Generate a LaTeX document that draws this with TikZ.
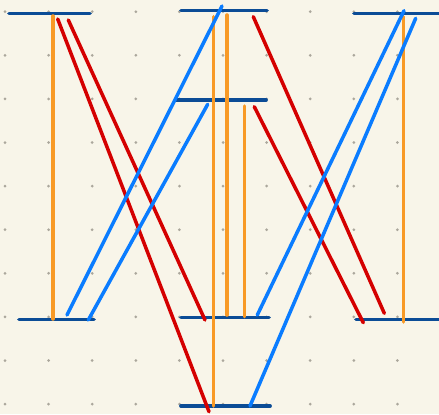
\documentclass[tikz,border=0pt]{standalone}
\usepackage{tikz}
\usetikzlibrary{positioning}
\definecolor{paperc}{HTML}{F8F5E9}
\definecolor{dotc}{HTML}{ABA79C}
\definecolor{barc}{HTML}{0B4C96}
\definecolor{bluec}{HTML}{0A7CFF}
\definecolor{orangec}{HTML}{F89A26}
\definecolor{redc}{HTML}{D40000}

\begin{document}
\begin{tikzpicture}[x=0.025cm, y=-0.025cm,
    barln/.style={draw=barc, line width=2.7pt, line cap=round},
    orangeln/.style={draw=orangec, line width=2.5pt, line cap=round},
    redln/.style={draw=redc, line width=2.5pt, line cap=round},
    blueln/.style={draw=bluec, line width=2.5pt, line cap=round}]
  \useasboundingbox (0,0) rectangle (439,414);
  \fill[paperc] (0,0) rectangle (439,414);
  \clip (0,0) rectangle (439,414);
  % dot grid
  \foreach \i in {0,...,9}
    \foreach \j in {0,...,9}
      \fill[dotc] ({5+43.6*\i},{11.7+43.6*\j}) circle (1.5);
  % bars
  \draw[barln] (9,13.5) -- (90,13.5);
  \draw[barln] (181,10.5) -- (267,10.5);
  \draw[barln] (176,100) -- (266,100);
  \draw[barln] (354,13.5) -- (445,13.5);
  \draw[barln] (19,319.5) -- (94,319.5);
  \draw[barln] (181,317.5) -- (269,317.5);
  \draw[barln] (181,406) -- (270,406);
  \draw[barln] (356,319.5) -- (445,319.5);
  % verticals
  \draw[orangeln] (53,16) -- (53,319);
  \draw[orangeln] (213.3,16.7) -- (213.3,406);
  \draw[orangeln] (227,15) -- (227,315);
  \draw[orangeln] (244.3,106) -- (244.3,316.7);
  \draw[orangeln] (403.3,16.7) -- (403.3,322);
  % falling lines
  \draw[redln] (57.7,19) -- (209,411.7);
  \draw[redln] (68.3,20) -- (205,320);
  \draw[redln] (253.3,16.7) -- (384.3,313.3);
  \draw[redln] (254.3,106.7) -- (363.3,322.7);
  % rising lines
  \draw[blueln] (67,315) -- (222,6);
  \draw[blueln] (88.3,320) -- (207.7,104.3);
  \draw[blueln] (257.3,315) -- (404,10.7);
  \draw[blueln] (250,406) -- (415.7,18.3);
\end{tikzpicture}
\end{document}
